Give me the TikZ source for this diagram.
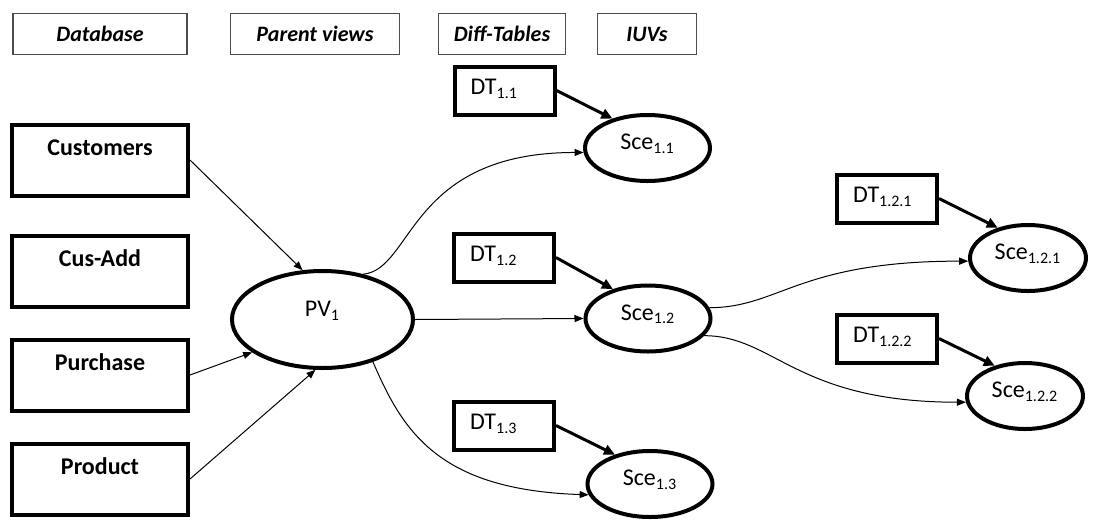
\documentclass[tikz,border=0pt]{standalone}
\usepackage{fontspec}
\setmainfont{Carlito}
\usetikzlibrary{arrows.meta,shapes.geometric}
\tikzset{
  hbox/.style={draw=black!70, line width=0.75pt, minimum height=20.5pt, inner sep=0pt,
    font=\fontsize{11}{13}\selectfont\bfseries\itshape},
  tbox/.style={draw, line width=2pt, minimum width=88pt, minimum height=35.5pt, inner sep=0pt,
    text height=8pt, text depth=12.2pt, font=\fontsize{12}{14}\selectfont\bfseries},
  dbox/.style={draw, line width=2pt, minimum width=50pt, minimum height=24pt, inner xsep=8pt,
    inner ysep=0pt, text width=34pt, align=left, text height=8pt, text depth=3.7pt,
    font=\fontsize{12}{14}\selectfont},
  pvell/.style={ellipse, draw, line width=2pt, minimum width=90.5pt, minimum height=48.5pt,
    inner sep=0pt, text height=8pt, text depth=10.7pt, font=\fontsize{12}{14}\selectfont},
  sceell/.style={ellipse, draw, line width=2pt, minimum width=62.5pt, minimum height=33pt,
    inner sep=0pt, text height=8pt, text depth=6.2pt, font=\fontsize{12}{14}\selectfont},
  conn/.style={-{Triangle[length=4.5pt,width=3.5pt]}, line width=0.5pt},
  darr/.style={-{Triangle[length=5.5pt,width=5pt]}, line width=1.5pt},
}

\begin{document}
\begin{tikzpicture}[x=0.5pt, y=-0.5pt]
  \useasboundingbox (0,0) rectangle (1094,521);
  % headings
  \node[hbox, minimum width=87pt] (hdb) at (100,34) {Database};
  \node[hbox, minimum width=84.5pt] (hpv) at (315,34) {Parent views};
  \node[hbox, minimum width=63.5pt] (hdt) at (502,34) {Diff-Tables};
  \node[hbox, minimum width=49.5pt] (hiuv) at (647,34) {IUVs};
  % base tables
  \node[tbox] (cust) at (100,160) {Customers};
  \node[tbox] (cadd) at (100,271) {Cus-Add};
  \node[tbox] (purch) at (100,375) {Purchase};
  \node[tbox] (prod) at (100,479) {Product};
  \node[pvell] (pv) at (322.5,319.5) {PV\textsubscript{1}};
  % diff tables and IUVs
  \node[dbox] (d11) at (504.5,90.5) {DT\textsubscript{1.1}};
  \node[dbox] (d12) at (504,257.5) {DT\textsubscript{1.2}};
  \node[dbox] (d13) at (504,425.5) {DT\textsubscript{1.3}};
  \node[dbox] (d121) at (887,198.5) {DT\textsubscript{1.2.1}};
  \node[dbox] (d122) at (887,338.5) {DT\textsubscript{1.2.2}};
  \node[sceell] (s11) at (647.5,148) {Sce\textsubscript{1.1}};
  \node[sceell] (s12) at (648,318.5) {Sce\textsubscript{1.2}};
  \node[sceell] (s13) at (650,484) {Sce\textsubscript{1.3}};
  \node[sceell, minimum width=58pt] (s121) at (1028,258) {Sce\textsubscript{1.2.1}};
  \node[sceell, minimum width=58pt] (s122) at (1025,396) {Sce\textsubscript{1.2.2}};

  \draw[conn] (cust.east) -- (pv.112);
  \draw[conn] (purch.east) -- (pv.205);
  \draw[conn] (prod.east) -- (pv.262);
  \draw[conn] (pv.48) .. controls +(50,-5) and +(-175,0) .. (s11.184);
  \draw[conn] (pv.east) -- (s12.west);
  \draw[conn] (pv.320) .. controls +(30,70) and +(-150,-5) .. (s13.190);
  \draw[conn] (s12.10) .. controls +(70,0) and +(-170,0) .. (s121.183);
  \draw[conn] (s12.343) .. controls +(70,0) and +(-170,0) .. (s122.186);

  \draw[darr] (d11.east) -- (s11.140);
  \draw[darr] (d12.east) -- (s12.140);
  \draw[darr] (d13.east) -- (s13.140);
  \draw[darr] (d121.east) -- (s121.135);
  \draw[darr] (d122.east) -- (s122.135);
\end{tikzpicture}
\end{document}
